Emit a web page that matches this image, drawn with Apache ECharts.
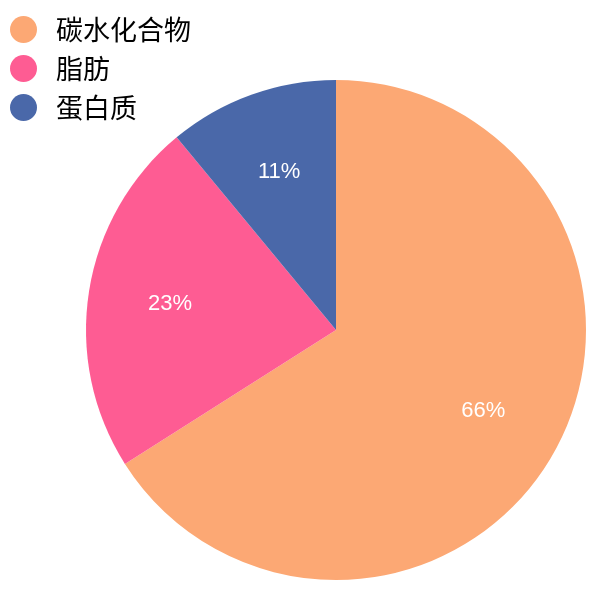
<!DOCTYPE html>
<html>
<head>
<meta charset="utf-8">
<script src="https://cdn.jsdelivr.net/npm/echarts@6/dist/echarts.min.js"></script>
<style>
html, body { margin: 0; padding: 0; background: #fff; }
#main { width: 600px; height: 607px; }
</style>
</head>
<body>
<div id="main"></div>
<script>
var names = ['碳水化合物', '脂肪', '蛋白质'];
var values = [66, 23, 11];
var colors = ['#FCA874', '#FE5C93', '#4A68A9'];

var chart = echarts.init(document.getElementById('main'));

var pieData = names.map(function (n, i) {
	return { name: n, value: values[i] };
});

var option = {
	color: colors,
	animation: false,
	legend: {
		orient: 'vertical',
		left: 5,
		top: 11,
		icon: 'circle',
		itemWidth: 27,
		itemHeight: 27,
		itemGap: 12,
		textStyle: {
			fontSize: 27,
			color: '#000',
			fontFamily: 'Noto Sans CJK SC',
			padding: [0, 0, 0, 14]
		},
		data: names
	},
	series: [
		{
			type: 'pie',
			center: [336, 330],
			radius: [0, 250],
			startAngle: 90,
			label: { show: false },
			labelLine: { show: false },
			emphasis: { disabled: true },
			data: pieData
		},
		{
			// transparent ring only to place the percent labels further out
			type: 'pie',
			center: [336, 330],
			radius: [80, 250],
			startAngle: 90,
			silent: true,
			itemStyle: { color: 'transparent' },
			label: {
				show: true,
				position: 'inside',
				formatter: '{c}%',
				color: '#fff',
				fontSize: 22,
				fontFamily: 'Liberation Sans'
			},
			labelLine: { show: false },
			data: pieData
		}
	]
};

chart.setOption(option);
</script>
</body>
</html>
